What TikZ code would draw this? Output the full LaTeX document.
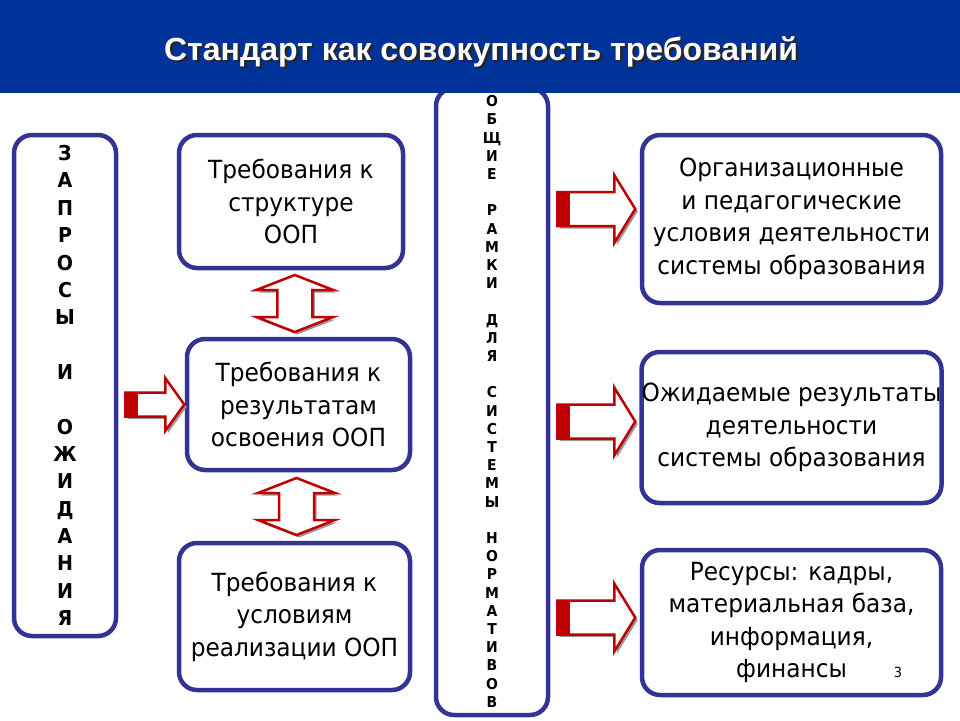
\documentclass[tikz,border=0pt]{standalone}
\usepackage{fontspec}
\setmainfont[FakeStretch=0.93]{DejaVu Sans}
\newfontfamily\titlefam{Liberation Sans}
\usetikzlibrary{calc}

\definecolor{barblue}{RGB}{0,51,153}
\definecolor{boxblue}{RGB}{51,51,150}
\definecolor{arrowred}{RGB}{192,0,0}

\newcommand\bodytext{\fontsize{25}{32.5}\selectfont}
\newcommand\leftletters{\fontsize{20.5}{27.35}\selectfont\bfseries}
\newcommand\midletters{\fontsize{15}{18.2}\selectfont\bfseries}
\newcommand\titletxt{\titlefam\fontsize{32}{36}\selectfont\bfseries}

\tikzset{
  box/.style={draw=boxblue, line width=4.5pt, rounded corners=18pt, fill=white,
    align=center, inner sep=0pt, font=\bodytext},
  arrowline/.style={draw=arrowred, line width=2.5pt, fill=white, line join=miter},
  arrowshadow/.style={fill=black!40},
  titletext/.style={font=\titletxt, anchor=base},
  % block arrow to the right: length, head length, half head, half shaft
  pics/rarrow/.style n args={4}{code={
    \fill [arrowshadow, shift={(2.5,2.5)}] (0,-#4) -- ({#1-#2},-#4) -- ({#1-#2},-#3) -- (#1,0)
      -- ({#1-#2},#3) -- ({#1-#2},#4) -- (0,#4) -- cycle;
    \draw [arrowline] (0,-#4) -- ({#1-#2},-#4) -- ({#1-#2},-#3) -- (#1,0)
      -- ({#1-#2},#3) -- ({#1-#2},#4) -- (0,#4) -- cycle;
    \fill [arrowred] (0,-#4) rectangle (13,#4);
  }},
  % vertical double arrow: half length, head length, half head, half shaft
  pics/darrow/.style n args={4}{code={
    \fill [arrowshadow, shift={(2.5,2.5)}] (0,-#1) -- (#3,{-#1+#2}) -- (#4,{-#1+#2}) -- (#4,{#1-#2})
      -- (#3,{#1-#2}) -- (0,#1) -- (-#3,{#1-#2}) -- (-#4,{#1-#2}) -- (-#4,{-#1+#2})
      -- (-#3,{-#1+#2}) -- cycle;
    \draw [arrowline] (0,-#1) -- (#3,{-#1+#2}) -- (#4,{-#1+#2}) -- (#4,{#1-#2})
      -- (#3,{#1-#2}) -- (0,#1) -- (-#3,{#1-#2}) -- (-#4,{#1-#2}) -- (-#4,{-#1+#2})
      -- (-#3,{-#1+#2}) -- cycle;
  }},
}

\begin{document}
\begin{tikzpicture}[x=1pt, y=-1pt]
        \useasboundingbox (0,0) rectangle (960,720);
        \fill [white] (0,0) rectangle (960,720);

        \node [box, font=\leftletters, minimum width=102pt, minimum height=501pt] (zapr) at (65,385.5)
          {З\\А\\П\\Р\\О\\С\\Ы\\~\\И\\~\\О\\Ж\\И\\Д\\А\\Н\\И\\Я};

        \node [box, minimum width=224pt, minimum height=133pt] (req1) at (291,201.5)
          {Требования к\\структуре\\ООП};
        \node [box, minimum width=223pt, minimum height=131pt] (req2) at (298.5,404.5)
          {Требования к\\результатам\\освоения ООП};
        \node [box, minimum width=231pt, minimum height=147pt] (req3) at (294.5,616.5)
          {Требования к\\условиям\\реализации ООП};

        \node [box, font=\midletters, minimum width=112pt, minimum height=627pt] (norm) at (492,401.5)
          {О\\Б\\Щ\\И\\Е\\~\\Р\\А\\М\\К\\И\\~\\Д\\Л\\Я\\~\\С\\И\\С\\Т\\Е\\М\\Ы\\~\\Н\\О\\Р\\М\\А\\Т\\И\\В\\О\\В};

        \node [box, minimum width=299pt, minimum height=168pt] (res1) at (791.5,219)
          {Организационные\\и педагогические\\условия деятельности\\системы образования};
        \node [box, minimum width=299pt, minimum height=151pt] (res2) at (791.5,427.5)
          {Ожидаемые результаты\\деятельности\\системы образования};
        \node [box, minimum width=299pt, minimum height=145pt] (res3) at (791.5,622.5)
          {Ресурсы: кадры,\\материальная база,\\информация,\\финансы};

        \coordinate (a0) at ($(zapr.east |- req2.center)+(7,0)$);
        \pic at (a0) {rarrow={59}{19}{26.5}{12}};
        \coordinate (a1) at ($(norm.east |- res1.center)+(7,-10)$);
        \pic at (a1) {rarrow={78}{21}{34}{17}};
        \coordinate (a2) at ($(norm.east |- res2.center)+(7,-6)$);
        \pic at (a2) {rarrow={78}{21}{34}{17}};
        \coordinate (a3) at ($(norm.east |- res3.center)+(7,-5)$);
        \pic at (a3) {rarrow={78}{21}{34}{17}};

        \coordinate (d1) at ($(req1.south)!0.5!(req2.north)$);
        \pic at (d1) {darrow={28.5}{15}{38.5}{17.5}};
        \coordinate (d2) at ($(req2.south)!0.5!(req3.north)$);
        \pic at (d2) {darrow={28.5}{15}{38.5}{17.5}};

        \fill [barblue] (0,0) rectangle (960,93);
        \node [titletext, text=black!85] at (483.5,62.5) {Стандарт как совокупность требований};
        \node [titletext, text=white] (title) at (481,60) {Стандарт как совокупность требований};

        \node [font=\fontsize{14}{16}\selectfont] (page) at (898,672) {3};
    \end{tikzpicture}
\end{document}
